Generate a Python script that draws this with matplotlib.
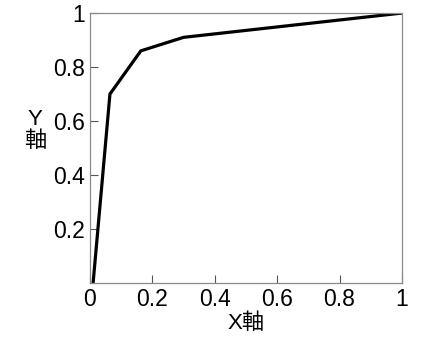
import matplotlib
matplotlib.use('Agg')
import matplotlib.pyplot as plt

# Values
x_vals = [0.01, 0.064, 0.163, 0.30, 1.0]
y_vals = [0.0, 0.70, 0.86, 0.91, 1.0]
x_ticks = [0, 0.2, 0.4, 0.6, 0.8, 1]
x_labels = ['0', '0.2', '0.4', '0.6', '0.8', '1']
y_ticks = [0.2, 0.4, 0.6, 0.8, 1]
y_labels = ['0.2', '0.4', '0.6', '0.8', '1']

plt.rcParams['font.family'] = ['Liberation Sans', 'Noto Sans CJK JP', 'DejaVu Sans']

fig = plt.figure(figsize=(4.4, 3.47), dpi=100)
ax = fig.add_axes([0.2045, 0.1844, 0.709, 0.778])

ax.plot(x_vals, y_vals, color='black', linewidth=2.3, solid_joinstyle='miter')

ax.set_xlim(0, 1)
ax.set_ylim(0, 1)
ax.set_xticks(x_ticks)
ax.set_xticklabels(x_labels)
ax.set_yticks(y_ticks)
ax.set_yticklabels(y_labels)

for s in ax.spines.values():
    s.set_color('#8a8a8a')
    s.set_linewidth(0.9)

ax.tick_params(direction='in', length=6, width=0.8, color='#555555',
               labelsize=16.5, pad=3.5)

ax.set_xlabel('X軸', fontsize=16)
ax.set_ylabel('Y\n軸', fontsize=16, rotation=0, linespacing=1.05,
              ha='center', va='center')
ax.yaxis.set_label_coords(-0.176, 0.565)
ax.xaxis.set_label_coords(0.5, -0.15)
ax.xaxis.label.set_va('center')

fig.savefig('out.png', dpi=100)
